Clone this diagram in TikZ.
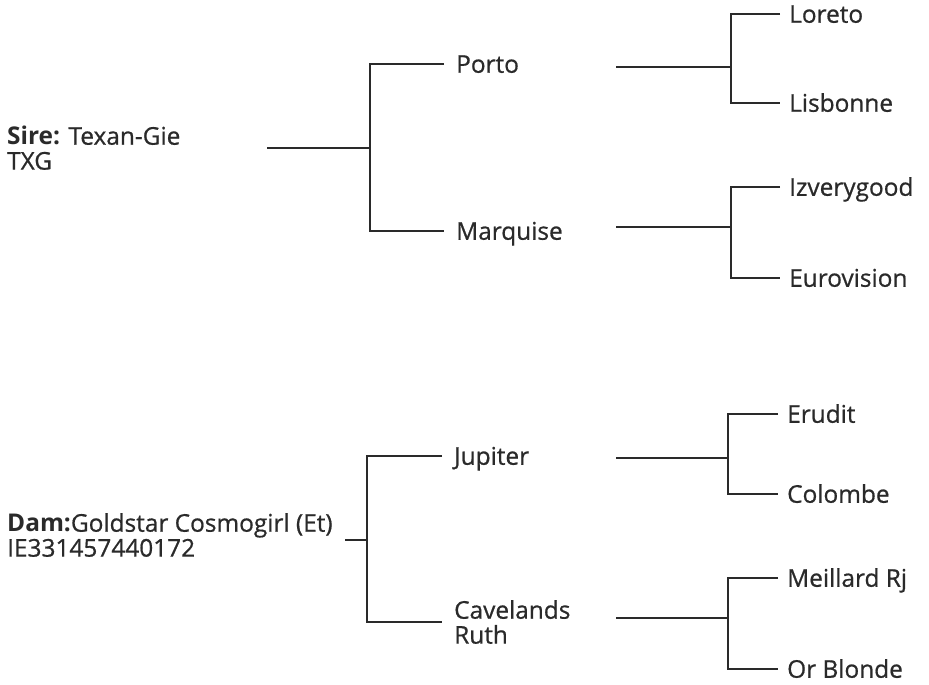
\documentclass[tikz,border=0pt]{standalone}
\usepackage{fontspec}
\setmainfont{Open Sans}[UprightFeatures={FakeBold=0.7}]
\definecolor{ink}{HTML}{2A2A2A}
\tikzset{
  horse/.style={anchor=west, inner ysep=0pt, text=ink, align=left,
    font=\fontsize{24.5}{25}\selectfont},
  oneline/.style={text height=17.5bp, text depth=0pt},
  sire2/.style={horse, inner xsep=12bp},
  sire3/.style={horse, oneline, inner xsep=9bp},
  thickline/.style={draw=ink, line width=1.7bp},
  thinline/.style={draw=ink, line width=1.1bp}
}
\begin{document}
\begin{tikzpicture}[x=1bp,y=-1bp]
  \useasboundingbox (0,0) rectangle (929,685);
  % parents
  \node[horse, inner xsep=0pt] (sire) at (7,148) {\textbf{Sire:} Texan-Gie\\TXG};
  \node[horse, inner xsep=0pt] (dam) at (7,535) {\textbf{Dam:}Goldstar Cosmogirl (Et)\\IE331457440172};
  \coordinate (sireS) at (267,148);
  \coordinate (sireF) at (370,148);
  \coordinate (damS) at (345,540);
  \coordinate (damF) at (367,540);
  % grandparents
  \node[sire2, oneline] (porto) at (444,64) {Porto};
  \node[sire2, oneline] (marquise) at (444,231) {Marquise};
  \node[sire2, oneline] (jupiter) at (442,456) {Jupiter};
  \node[sire2] (cavelands) at (442,622) {Cavelands\\Ruth};
  \draw[thickline] (sireS) -- (sireF);
  \draw[thickline] (porto.west) -| (sireF) |- (marquise.west);
  \draw[thickline] (damS) -- (damF);
  \draw[thickline] (jupiter.west) -| (damF) |- (cavelands.west);
  % great-grandparents
  \coordinate (portoS) at (616,67);    \coordinate (portoF) at (731,67);
  \coordinate (marqS) at (616,227);    \coordinate (marqF) at (731,227);
  \coordinate (jupS) at (616,458);     \coordinate (jupF) at (728,458);
  \coordinate (caveS) at (616,618);    \coordinate (caveF) at (728,618);
  \node[sire3] (loreto) at (780,14) {Loreto};
  \node[sire3] (lisbonne) at (780,103) {Lisbonne};
  \node[sire3] (izvery) at (780,187) {Izverygood};
  \node[sire3] (eurovision) at (780,278) {Eurovision};
  \node[sire3] (erudit) at (778,414) {Erudit};
  \node[sire3] (colombe) at (778,494) {Colombe};
  \node[sire3] (meillard) at (778,578) {Meillard Rj};
  \node[sire3] (orblonde) at (778,669) {Or Blonde};
  \draw[thinline] (portoS) -- (portoF);
  \draw[thinline] (loreto.west) -| (portoF) |- (lisbonne.west);
  \draw[thinline] (marqS) -- (marqF);
  \draw[thinline] (izvery.west) -| (marqF) |- (eurovision.west);
  \draw[thinline] (jupS) -- (jupF);
  \draw[thinline] (erudit.west) -| (jupF) |- (colombe.west);
  \draw[thinline] (caveS) -- (caveF);
  \draw[thinline] (meillard.west) -| (caveF) |- (orblonde.west);
\end{tikzpicture}
\end{document}
